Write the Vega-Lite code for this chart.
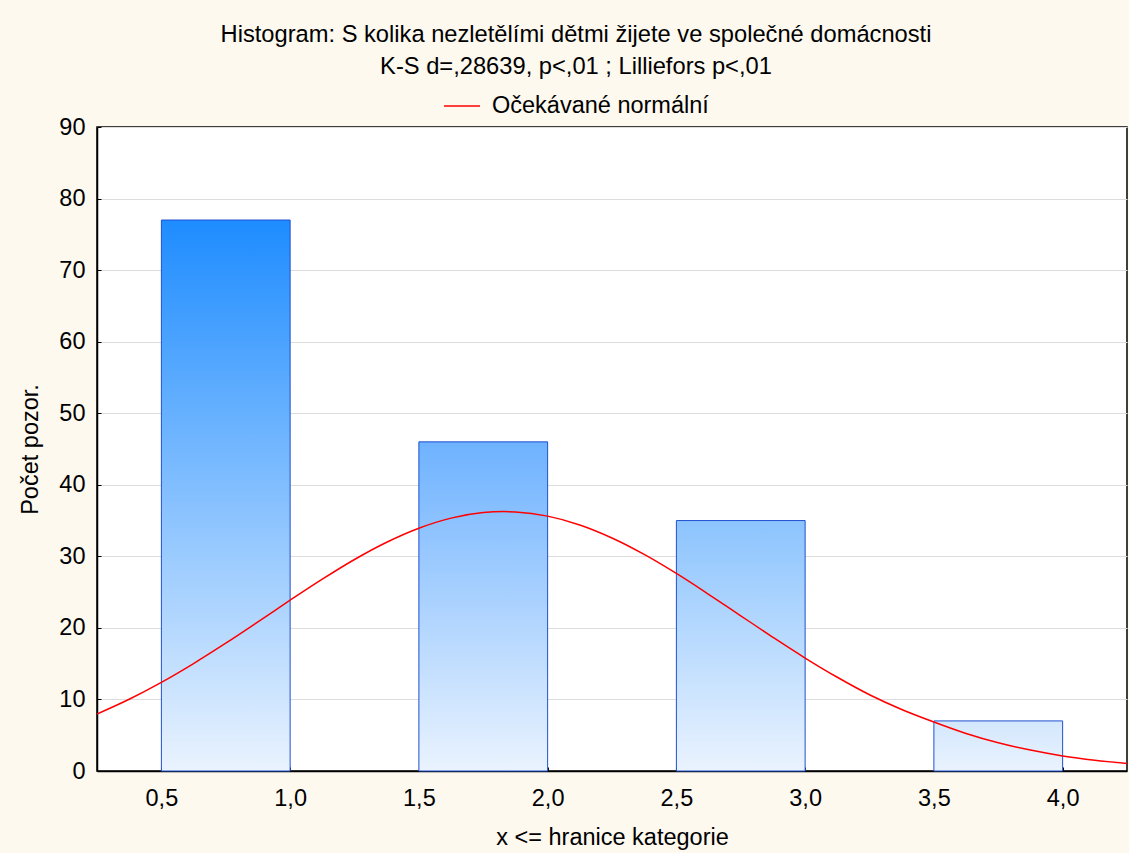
{
  "$schema": "https://vega.github.io/schema/vega-lite/v6.json",
  "width": 1030,
  "height": 644,
  "autosize": "none",
  "padding": {"left": 97, "top": 127, "right": 2, "bottom": 82},
  "background": "#FDF9EF",
  "title": {
    "text": ["Histogram: S kolika nezletělími dětmi žijete ve společné domácnosti", "K-S d=,28639, p<,01 ; Lilliefors p<,01"],
    "font": "Liberation Sans",
    "fontSize": 23.7,
    "fontWeight": "normal",
    "color": "black",
    "anchor": "middle",
    "dx": -36,
    "lineHeight": 32,
    "offset": 8
  },
  "datasets": {
    "bars": [
      {"x": 0.5, "x_end": 1.0, "y": 77},
      {"x": 1.5, "x_end": 2.0, "y": 46},
      {"x": 2.5, "x_end": 3.0, "y": 35},
      {"x": 3.5, "x_end": 4.0, "y": 7}
    ],
    "curve": [
      {"x": 0.25, "y": 7.97}, {"x": 0.375, "y": 10.03}, {"x": 0.5, "y": 12.39}, {"x": 0.625, "y": 15.02},
      {"x": 0.75, "y": 17.86}, {"x": 0.875, "y": 20.84}, {"x": 1.0, "y": 23.87}, {"x": 1.125, "y": 26.81},
      {"x": 1.25, "y": 29.56}, {"x": 1.375, "y": 31.97}, {"x": 1.5, "y": 33.93}, {"x": 1.625, "y": 35.34},
      {"x": 1.75, "y": 36.11}, {"x": 1.83, "y": 36.25}, {"x": 1.875, "y": 36.2}, {"x": 2.0, "y": 35.62},
      {"x": 2.125, "y": 34.39}, {"x": 2.25, "y": 32.57}, {"x": 2.375, "y": 30.27}, {"x": 2.5, "y": 27.61},
      {"x": 2.625, "y": 24.7}, {"x": 2.75, "y": 21.69}, {"x": 2.875, "y": 18.69}, {"x": 3.0, "y": 15.79},
      {"x": 3.125, "y": 13.1}, {"x": 3.25, "y": 10.66}, {"x": 3.375, "y": 8.6}, {"x": 3.5, "y": 6.85},
      {"x": 3.625, "y": 5.25}, {"x": 3.75, "y": 3.95}, {"x": 3.875, "y": 2.92}, {"x": 4.0, "y": 2.1},
      {"x": 4.125, "y": 1.5}, {"x": 4.25, "y": 1.05}
    ]
  },
  "encoding": {
    "x": {
      "field": "x",
      "type": "quantitative",
      "scale": {"domain": [0.25, 4.25], "nice": false, "zero": false},
      "axis": {
        "title": "x <= hranice kategorie",
        "values": [0.5, 1.0, 1.5, 2.0, 2.5, 3.0, 3.5, 4.0],
        "labelExpr": "replace(format(datum.value, '.1f'), '.', ',')",
        "grid": false,
        "tickSize": -4,
        "labelPadding": 19,
        "titlePadding": 16
      }
    },
    "y": {
      "field": "y",
      "type": "quantitative",
      "scale": {"domain": [0, 90], "nice": false},
      "axis": {
        "title": "Počet pozor.",
        "values": [0, 10, 20, 30, 40, 50, 60, 70, 80, 90],
        "grid": true,
        "gridColor": "#DDDDDD",
        "gridWidth": 1,
        "tickSize": -4,
        "labelPadding": 16,
        "titlePadding": 16
      }
    }
  },
  "layer": [
    {
      "data": {"name": "bars"},
      "transform": [{"filter": "datum.y == 77"}],
      "mark": {"type": "bar", "stroke": "#1F50D0", "strokeWidth": 1,
        "fill": {"gradient": "linear", "x1": 0, "y1": 0, "x2": 0, "y2": 1,
          "stops": [{"offset": 0, "color": "#1E8CFF"}, {"offset": 1, "color": "#EAF3FE"}]}},
      "encoding": {"x2": {"field": "x_end"}, "y2": {"datum": 0}}
    },
    {
      "data": {"name": "bars"},
      "transform": [{"filter": "datum.y == 46"}],
      "mark": {"type": "bar", "stroke": "#1F50D0", "strokeWidth": 1,
        "fill": {"gradient": "linear", "x1": 0, "y1": 0, "x2": 0, "y2": 1,
          "stops": [{"offset": 0, "color": "#6EB2FF"}, {"offset": 1, "color": "#EAF3FE"}]}},
      "encoding": {"x2": {"field": "x_end"}, "y2": {"datum": 0}}
    },
    {
      "data": {"name": "bars"},
      "transform": [{"filter": "datum.y == 35"}],
      "mark": {"type": "bar", "stroke": "#1F50D0", "strokeWidth": 1,
        "fill": {"gradient": "linear", "x1": 0, "y1": 0, "x2": 0, "y2": 1,
          "stops": [{"offset": 0, "color": "#8CC4FE"}, {"offset": 1, "color": "#EAF3FE"}]}},
      "encoding": {"x2": {"field": "x_end"}, "y2": {"datum": 0}}
    },
    {
      "data": {"name": "bars"},
      "transform": [{"filter": "datum.y == 7"}],
      "mark": {"type": "bar", "stroke": "#1F50D0", "strokeWidth": 1,
        "fill": {"gradient": "linear", "x1": 0, "y1": 0, "x2": 0, "y2": 1,
          "stops": [{"offset": 0, "color": "#D3E7FD"}, {"offset": 1, "color": "#EAF3FE"}]}},
      "encoding": {"x2": {"field": "x_end"}, "y2": {"datum": 0}}
    },
    {
      "data": {"name": "curve"},
      "mark": {"type": "line", "strokeWidth": 1.5, "interpolate": "monotone", "clip": true},
      "encoding": {
        "color": {
          "datum": "Očekávané normální",
          "type": "nominal",
          "scale": {"range": ["#FF0000"]},
          "legend": {
            "orient": "none",
            "legendX": 346,
            "legendY": -40,
            "title": null,
            "padding": 0,
            "symbolType": "stroke",
            "symbolSize": 1296,
            "symbolStrokeWidth": 1.5,
            "labelFont": "Liberation Sans",
            "labelFontSize": 23.5,
            "labelColor": "black",
            "labelOffset": 11,
            "labelLimit": 500
          }
        }
      }
    }
  ],
  "config": {
    "font": "Liberation Sans",
    "view": {"stroke": "black", "strokeWidth": 1.5, "fill": "white"},
    "axis": {
      "labelFont": "Liberation Sans",
      "titleFont": "Liberation Sans",
      "labelFontSize": 23.5,
      "titleFontSize": 23.5,
      "titleFontWeight": "normal",
      "labelColor": "black",
      "titleColor": "black",
      "domainColor": "black",
      "domainWidth": 1.5,
      "tickColor": "black",
      "tickWidth": 1
    }
  }
}
